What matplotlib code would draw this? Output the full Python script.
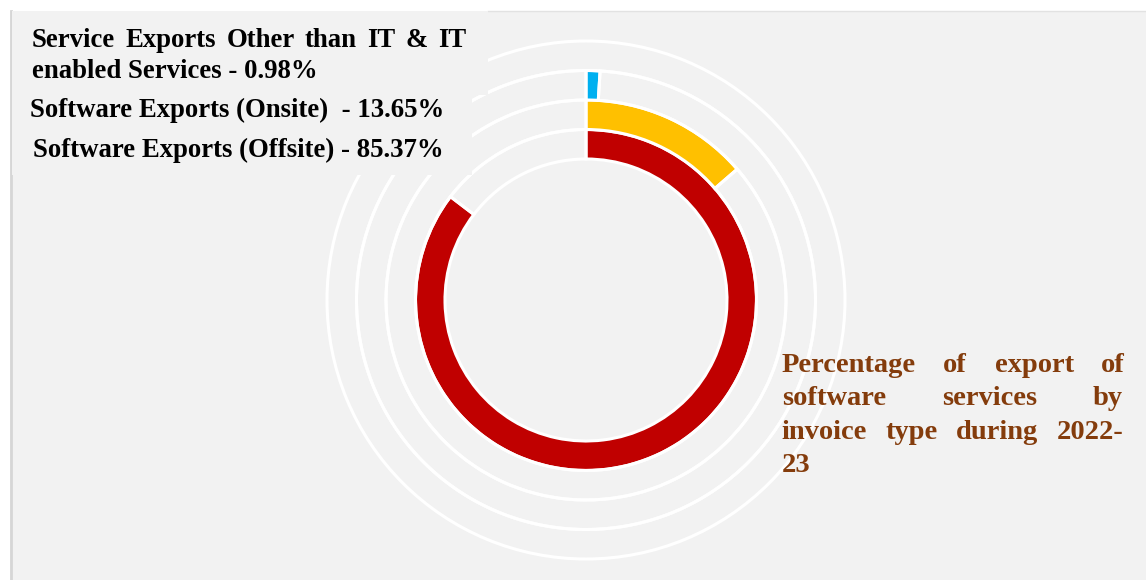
import matplotlib
matplotlib.use("Agg")
import matplotlib.pyplot as plt
from matplotlib.patches import Rectangle

# Export shares by invoice type, 2022-23 (percent)
categories = [
    "Software Exports (Offsite)",
    "Software Exports (Onsite)",
    "Service Exports Other than IT & IT enabled Services",
]
shares = [85.37, 13.65, 0.98]
ring_colors = ["#c00000", "#ffc000", "#00b0f0"]
title_lines = ["Percentage of export of", "software services by",
               "invoice type during 2022-", "23"]

W, H = 1146, 580
fig = plt.figure(figsize=(W / 100, H / 100), dpi=100, facecolor="white")
ax = fig.add_axes([0, 0, 1, 1])

PANEL = "#f2f2f2"
ax.add_patch(Rectangle((10, 0), W - 10, H - 11, facecolor=PANEL,
                       edgecolor="none", zorder=0))
ax.plot([11, 11], [0, H - 11], color="#d6d6d6", linewidth=2, zorder=1)
ax.plot([488, W], [H - 11, H - 11], color="#e2e2e2", linewidth=1, zorder=1)

# Concentric rings: innermost holds the largest share, outermost is an empty track
cx, cy = 586, H - 300
band = 29.5
r_inner = 141
edge = dict(edgecolor="white", linewidth=2.2)
for i, (val, col) in enumerate(zip(shares, ring_colors)):
    r_out = r_inner + band * (i + 1)
    ax.pie([val, 100 - val], radius=r_out, center=(cx, cy), startangle=90,
           counterclock=False, colors=[col, "none"],
           wedgeprops=dict(width=band, **edge), frame=True)
ax.pie([100], radius=r_inner + band * 4, center=(cx, cy), startangle=90,
       counterclock=False, colors=["none"],
       wedgeprops=dict(width=band, **edge), frame=True)

ax.set_xlim(0, W)
ax.set_ylim(0, H)
ax.set_aspect("auto")
ax.axis("off")

# Background boxes behind the legend text
ax.add_patch(Rectangle((12, H - 95), 476, 84, facecolor=PANEL,
                       edgecolor="none", zorder=5))
ax.add_patch(Rectangle((12, H - 175), 460, 80, facecolor=PANEL,
                       edgecolor="none", zorder=5))

renderer = fig.canvas.get_renderer()


def draw_line(text, x0, y, x1=None, size=19, color="black"):
    """Draw one line of text; if x1 is given, spread words to fill x0..x1."""
    kw = dict(fontsize=size, fontweight="bold", family="Liberation Serif",
              color=color, va="baseline", ha="left", zorder=10)
    if x1 is None:
        ax.text(x0, H - y, text, **kw)
        return
    words = text.split()
    items = [ax.text(0, H - y, w, **kw) for w in words]
    widths = [t.get_window_extent(renderer).width for t in items]
    gap = (x1 - x0 - sum(widths)) / max(len(words) - 1, 1)
    x = x0
    for t, w in zip(items, widths):
        t.set_x(x)
        x += w + gap


labels = [f"{c} - {v:.2f}%" for c, v in zip(categories, shares)]
other_words = labels[2].split()
draw_line(" ".join(other_words[:7]), 31.7, 46.7, x1=466.7, size=19.3)
draw_line(" ".join(other_words[7:]), 31.7, 78.3, size=19.3)
draw_line(labels[1].replace(") -", ")  -"), 30, 116.7, size=19.3)
draw_line(labels[0], 33, 156.7, size=19.3)

brown = "#843c0c"
title_base = [371.7, 405, 439, 471.7]
title_right = [1125, 1123, 1123, None]
for line, yb, xr in zip(title_lines, title_base, title_right):
    draw_line(line, 781.7, yb, x1=xr, size=20.5, color=brown)

fig.savefig("out.png", dpi=100, facecolor="white")
